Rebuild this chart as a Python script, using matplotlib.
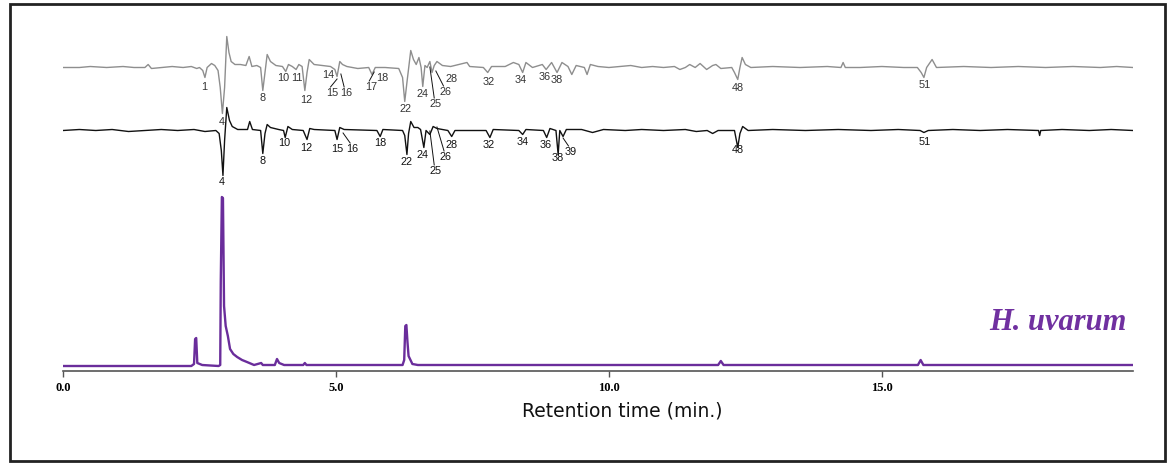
import matplotlib
matplotlib.use("Agg")
import matplotlib.pyplot as plt
from matplotlib.patches import Rectangle

# retention time (min) / detector response
gray_t = [0.0, 0.3, 0.5, 0.8, 1.1, 1.3, 1.50, 1.56, 1.62, 1.8, 2.0, 2.2, 2.35, 2.45,
          2.50, 2.56, 2.60, 2.64, 2.72, 2.78, 2.84, 2.88, 2.92, 2.96, 3.00,
          3.04, 3.08, 3.15, 3.25, 3.35, 3.41, 3.46, 3.55, 3.62, 3.66, 3.70, 3.74, 3.80,
          3.90, 4.02, 4.08, 4.13, 4.20, 4.27, 4.32, 4.38, 4.43, 4.47, 4.51, 4.60, 4.75,
          4.90, 4.98, 5.02, 5.07, 5.12, 5.20, 5.40, 5.60, 5.66, 5.72, 5.90, 6.15, 6.22,
          6.26, 6.30, 6.37, 6.42, 6.47, 6.52, 6.56, 6.59, 6.63, 6.67, 6.72, 6.76, 6.80,
          6.85, 6.95, 7.10, 7.40, 7.45, 7.70, 7.78, 7.85, 8.10, 8.25, 8.35, 8.42, 8.48,
          8.60, 8.78, 8.85, 8.95, 9.05, 9.14, 9.25, 9.32, 9.40, 9.55, 9.60, 9.66, 9.8,
          10.0, 10.2, 10.4, 10.6, 10.8, 11.0, 11.2, 11.30,
          11.40, 11.48, 11.58, 11.67, 11.75, 11.79, 11.90, 11.96, 12.05, 12.25, 12.30,
          12.36, 12.40, 12.44, 12.50, 12.60, 13.0, 13.5, 14.0, 14.25, 14.29, 14.33, 14.6,
          15.0, 15.4, 15.65, 15.72, 15.77, 15.82, 15.92, 16.00, 16.5, 17.0, 17.5, 18.0,
          18.5, 19.0, 19.3, 19.6]
gray_v = [0, 0, 1, 0, 1, 0, 0, 3, -1, 0, 1, 0, 1, -1,
          0, -3, -10, 0, 4, 2, -3, -20, -46, -20, 31,
          15, 6, 3, 3, 2, 11, 1, 2, 0, -23, -5, 13, 6,
          2, 1, -4, 3, 1, -2, 3, 1, -23, -5, 8, 3, 2,
          1, -2, -9, 6, 3, 1, -1, 0, -7, 0, 0, -1, -10,
          -34, -15, 17, 8, 3, 10, 0, -19, 2, 0, 6, -5, 2,
          6, 2, 1, 5, 1, 0, -5, 1, 1, 5, 3, -5, 5,
          0, 3, -2, 5, -5, 5, 1, -7, 2, 0, -7, 3, 1,
          0, 1, 2, 0, 1, 0, 1, -2,
          0, 3, 0, 4, 0, -2, 2, 3, -1, 0, -5,
          -12, 0, 10, 3, 0, 1, 0, 1, 0, 5, 0, 0,
          1, 0, 0, -5, -10, 0, 8, 0, 1, 0, 1, 0,
          1, 0, 1, 0]

black_t = [0.0, 0.3, 0.6, 0.9, 1.2, 1.5, 1.8, 2.1, 2.4, 2.6, 2.80, 2.86, 2.90, 2.93,
           2.96, 3.00, 3.05, 3.10, 3.20, 3.38, 3.42,
           3.47, 3.62, 3.66, 3.70, 3.74, 3.80, 3.95, 4.04, 4.07, 4.12, 4.20, 4.40, 4.47,
           4.52, 4.60, 4.98, 5.02, 5.07, 5.15, 5.75, 5.81, 5.86, 6.22, 6.26, 6.30, 6.33,
           6.37, 6.43, 6.50, 6.55, 6.61, 6.65, 6.72, 6.78, 6.85, 7.05, 7.12, 7.18, 7.75,
           7.82, 7.88, 8.35, 8.42, 8.48, 8.80, 8.86, 8.92, 9.03, 9.07, 9.10, 9.16, 9.22,
           9.5, 9.7, 9.9, 10.3, 10.6, 11.0, 11.4, 11.6,
           11.8, 11.9, 12.0, 12.30, 12.36, 12.40, 12.45, 12.55, 13.0, 13.6, 14.2, 14.8,
           15.3, 15.70, 15.77, 15.85, 16.3, 16.8, 17.3,
           17.87, 17.89, 17.91, 18.3, 18.8, 19.2, 19.6]
black_v = [0, 1, 0, 1, -1, 0, 1, 0, 1, -1, 0, -3, -20, -45,
           -10, 23, 10, 4, 1, 1, 9,
           1, 0, -23, -3, 6, 3, 1, 0, -7, 4, 1, 0, -9,
           2, 1, 0, -9, 3, 1, 0, -6, 1, 0, -5, -24, -3,
           9, 3, 3, 1, -17, 0, -4, 4, 2, 0, -6, 0, 0,
           -7, 1, 0, -4, 1, 0, -7, 2, 0, -24, 0, -6, 1,
           1, -2, 1, 0, 1, 0, 1, -1,
           0, -3, 0, 0, -17, -3, 4, 0, 1, 0, 1, 0,
           1, 0, -2, 0, 1, 0, 1,
           0, -5, 0, 1, 0, 1, 0]

purple_t = [0.0, 2.35, 2.40, 2.42, 2.44, 2.46, 2.55, 2.85, 2.88, 2.89, 2.91, 2.93, 2.95,
            2.98, 3.02, 3.06, 3.12, 3.19, 3.28, 3.37, 3.50, 3.63, 3.66, 3.88, 3.92, 3.96,
            4.05, 4.40, 4.43, 4.46, 6.22, 6.25, 6.27, 6.29, 6.31, 6.33, 6.40, 6.50,
            12.00, 12.05, 12.10, 15.66, 15.71, 15.76, 19.6]
purple_v = [0, 0, 2, 27, 28, 3, 1, 0, 1, 85, 169, 168, 60,
            40, 30, 17, 12, 9, 6, 4, 1, 3, 1, 1, 7, 3,
            1, 1, 3, 1, 1, 6, 40, 41, 24, 10, 2, 1,
            1, 5, 1, 1, 6, 1, 1]

# peak numbers: (label, time, response), optional leader start (time, response)
gray_labels = [("1", 2.58, -18.5, None), ("4", 2.91, -53.5, None), ("8", 3.66, -29.5, None),
               ("10", 4.03, -9.5, None), ("11", 4.29, -9.5, None), ("12", 4.45, -31.5, None),
               ("14", 4.85, -6.5, None), ("15", 4.93, -24.5, (5.02, -11.5)),
               ("16", 5.18, -24.5, (5.09, -6.5)), ("17", 5.64, -18.5, (5.70, -4.5)),
               ("18", 5.84, -9.5, None), ("22", 6.28, -40.5, None), ("24", 6.58, -25.5, None),
               ("25", 6.83, -35.5, (6.72, 0.5)), ("26", 7.00, -23.5, (6.83, -3.5)),
               ("28", 7.12, -10.5, None), ("32", 7.80, -13.5, None), ("34", 8.39, -11.5, None),
               ("36", 8.83, -8.5, None), ("38", 9.05, -11.5, None), ("48", 12.36, -19.5, None),
               ("51", 15.79, -16.5, None)]
black_labels = [("4", 2.91, -50.5, None), ("8", 3.66, -29.5, None), ("10", 4.05, -11.5, None),
                ("12", 4.45, -16.5, None), ("15", 5.02, -17.5, None),
                ("16", 5.29, -17.5, (5.13, -2.5)), ("18", 5.82, -11.5, None),
                ("22", 6.30, -30.5, None), ("24", 6.59, -23.5, None),
                ("25", 6.83, -39.5, (6.72, -0.5)), ("26", 7.01, -25.5, (6.85, 3.5)),
                ("28", 7.12, -13.5, None), ("32", 7.80, -13.5, None), ("34", 8.42, -10.5, None),
                ("36", 8.85, -13.5, None), ("38", 9.07, -26.5, None),
                ("39", 9.29, -20.5, (9.16, -7.5)), ("48", 12.36, -18.5, None),
                ("51", 15.79, -10.5, None)]

xticks = [0.0, 5.0, 10.0, 15.0]

W, H = 1174, 464
fig = plt.figure(figsize=(W / 100, H / 100), dpi=100)
ax = fig.add_axes([63 / W, (H - 372) / H, (1133 - 63) / W, (372 - 30) / H])

gray_base = 298.5
black_base = 235.5

ax.plot(gray_t, [v + gray_base for v in gray_v], color="#8e8e8e", lw=1.0)
ax.plot(black_t, [v + black_base for v in black_v], color="#111111", lw=1.0)
ax.plot(purple_t, purple_v, color="#6a2d9b", lw=1.7)

for labels, base, col in [(gray_labels, gray_base, "#333333"), (black_labels, black_base, "#111111")]:
    for txt, t, v, lead in labels:
        ax.text(t, v + base, txt, ha="center", va="center", fontsize=7.8,
                family="Liberation Sans", color=col)
        if lead is not None:
            ax.plot([lead[0], t - 0.03], [lead[1] + base, v + base + 5], color="#111111", lw=0.7)

ax.set_xlim(0, 19.6)
ax.set_ylim(-5, 337)
for s in ["top", "right", "left"]:
    ax.spines[s].set_visible(False)
ax.spines["bottom"].set_color("#555555")
ax.spines["bottom"].set_linewidth(1.2)
ax.set_yticks([])
ax.set_xticks(xticks)
ax.set_xticklabels(["%.1f" % x for x in xticks], family="Liberation Serif",
                   fontweight="bold", fontsize=9)
ax.tick_params(axis="x", length=4, width=1, color="#555555", pad=3)
ax.set_xlabel("Retention time (min.)", family="DejaVu Sans", fontsize=13.5, color="#111111")
ax.xaxis.set_label_coords(0.523, -0.085)
ax.text(18.22, 45, "H. uvarum", family="Liberation Serif", style="italic", fontweight="bold",
        fontsize=22, color="#7030a0", ha="center", va="center")

fig.patches.append(Rectangle((10 / W, 2 / H), 1155 / W, 457 / H, transform=fig.transFigure,
                             fill=False, edgecolor="#222222", lw=2))

fig.savefig("out.png", dpi=100)
